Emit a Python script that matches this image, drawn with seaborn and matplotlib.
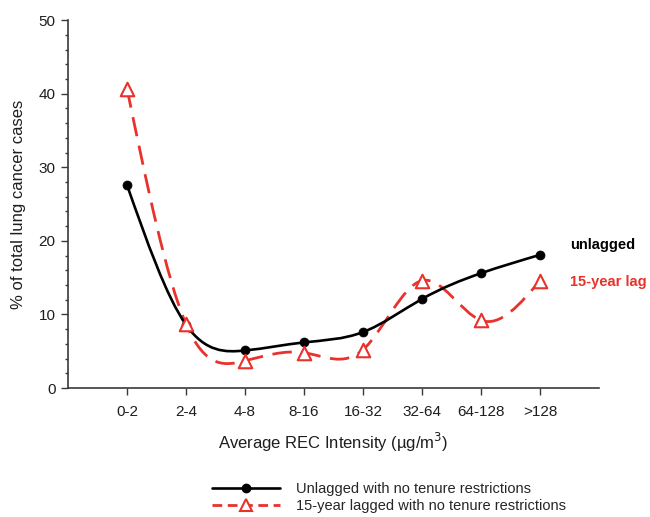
import numpy as np
import matplotlib
matplotlib.use("Agg")
import matplotlib.pyplot as plt
from matplotlib.path import Path
from matplotlib.patches import PathPatch
from matplotlib.lines import Line2D
from matplotlib.ticker import MultipleLocator
import seaborn as sns
import pandas as pd

# dados
categories = ["0-2", "2-4", "4-8", "8-16", "16-32", "32-64", "64-128", ">128"]
unlagged = [27.6, 8.6, 5.1, 6.2, 7.6, 12.1, 15.6, 18.1]
lagged_15 = [40.7, 8.7, 3.7, 4.8, 5.2, 14.6, 9.2, 14.6]

legend_labels = ["Unlagged with no tenure restrictions",
                 "15-year lagged with no tenure restrictions"]

RED = "#e8322b"
BLACK = "#000000"
GREY = "#3a3a3a"


def spline_path(xs, ys):
    # curva suave (spline cubica natural) desenhada como Bezier
    xs = np.asarray(xs, float)
    ys = np.asarray(ys, float)
    n = len(xs)
    A = np.zeros((n, n))
    b = np.zeros(n)
    A[0, 0], A[0, 1], b[0] = 2, 1, 3 * (ys[1] - ys[0])
    A[-1, -2], A[-1, -1], b[-1] = 1, 2, 3 * (ys[-1] - ys[-2])
    for i in range(1, n - 1):
        A[i, i - 1], A[i, i], A[i, i + 1] = 1, 4, 1
        b[i] = 3 * (ys[i + 1] - ys[i - 1])
    m = np.linalg.solve(A, b)
    verts = [(xs[0], ys[0])]
    codes = [Path.MOVETO]
    for i in range(n - 1):
        verts += [(xs[i] + 1 / 3, ys[i] + m[i] / 3),
                  (xs[i + 1] - 1 / 3, ys[i + 1] - m[i + 1] / 3),
                  (xs[i + 1], ys[i + 1])]
        codes += [Path.CURVE4] * 3
    return Path(verts, codes)


sns.set_theme(style="ticks")
plt.rcParams["font.family"] = ["Liberation Sans", "DejaVu Sans"]

df = pd.DataFrame({"pos": np.arange(len(categories)),
                   "unlagged": unlagged, "lagged": lagged_15})

fig = plt.figure(figsize=(6.5, 5.17), dpi=100)
ax = fig.add_axes([0.1046, 0.2495, 0.8169, 0.7115])

ax.add_patch(PathPatch(spline_path(df["pos"], df["unlagged"]), fill=False,
                       edgecolor=BLACK, lw=1.9, zorder=3))
ax.add_patch(PathPatch(spline_path(df["pos"], df["lagged"]), fill=False,
                       edgecolor=RED, lw=2.0, linestyle=(0, (7, 3.5)), zorder=2))

sns.scatterplot(data=df, x="pos", y="unlagged", ax=ax, color=BLACK,
                marker="o", s=42, edgecolor=BLACK, zorder=4, legend=False)
sns.scatterplot(data=df, x="pos", y="lagged", ax=ax, marker="^", s=95,
                facecolor="white", edgecolor=RED, linewidth=1.5, zorder=5,
                legend=False)

ax.set_xlim(-1, 8)
ax.set_ylim(0, 50)
ax.set_xticks(df["pos"])
ax.set_xticklabels(categories)
ax.yaxis.set_major_locator(MultipleLocator(10))
ax.yaxis.set_minor_locator(MultipleLocator(2))
ax.tick_params(axis="both", which="major", length=5, width=1, color=GREY,
               labelsize=11, labelcolor="#1e1e1e")
ax.tick_params(axis="x", pad=7)
ax.tick_params(axis="y", pad=4)
ax.tick_params(axis="y", which="minor", length=2.5, width=1, color=GREY)
for s in ["left", "bottom"]:
    ax.spines[s].set_color(GREY)
    ax.spines[s].set_linewidth(1.2)
sns.despine(ax=ax)

ax.set_xlabel("Average REC Intensity (\u00b5g/m$^3$)", fontsize=12,
              labelpad=9, color="#1e1e1e")
ax.set_ylabel("% of total lung cancer cases", fontsize=12, labelpad=9,
              color="#1e1e1e")

ax.text(7.51, 19.4, "unlagged", fontsize=10.5, fontweight="bold",
        color=BLACK, va="center", ha="left", clip_on=False)
ax.text(7.51, 14.4, "15-year lag", fontsize=10.5, fontweight="bold",
        color=RED, va="center", ha="left", clip_on=False)

handles = [
    Line2D([], [], color=BLACK, lw=1.9, marker="o", markersize=6),
    Line2D([], [], color=RED, lw=2.0, linestyle=(0, (3.5, 2)), marker="^",
           markersize=9, markerfacecolor="white", markeredgecolor=RED,
           markeredgewidth=1.5),
]
fig.legend(handles, legend_labels, loc="upper left",
           bbox_to_anchor=(0.326, 1 - 482 / 517), frameon=False,
           fontsize=10.5, borderpad=0, borderaxespad=0, handlelength=4.7,
           handletextpad=1.1, labelspacing=0.2, markerscale=1)

fig.savefig("out.png", dpi=100)
plt.close(fig)
